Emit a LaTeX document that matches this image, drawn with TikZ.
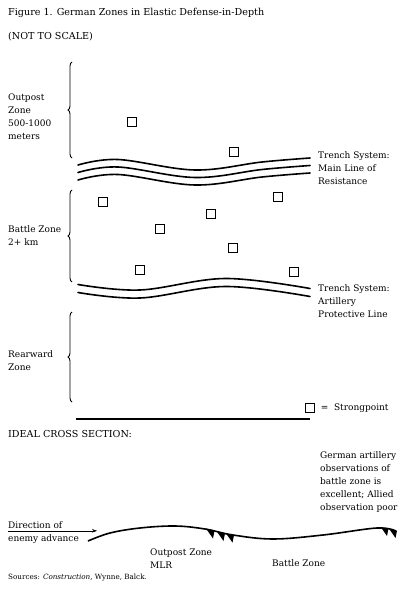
\documentclass[tikz,border=0pt]{standalone}
\usepackage{fontspec}
\setmainfont{DejaVu Serif}
\usetikzlibrary{arrows.meta,decorations.pathreplacing,positioning}

\begin{document}
\begin{tikzpicture}[x=1pt, y=-1pt,
    txt/.style={font=\fontsize{9}{13}\selectfont, align=left, anchor=north west, inner sep=0pt},
    basetxt/.style={font=\fontsize{9}{13}\selectfont, anchor=base west, inner sep=0pt},
    head/.style={txt, font=\fontsize{9.6}{12}\selectfont},
    sp/.style={draw, line width=0.7pt, minimum size=8.5pt, inner sep=0pt},
    trench/.style={line width=1.6pt, line cap=round},
    zone/.style={line width=0.9pt, decorate, decoration={brace, amplitude=4pt, mirror}},
    ground/.style={line width=1.6pt},
    hatch/.style={fill=black}
]
    \useasboundingbox (0,0) rectangle (406,591);
    \node[head] (title) at (8,8.5) {Figure 1. German Zones in Elastic Defense-in-Depth};
    \node[head] (notscale) at (8,32) {(NOT TO SCALE)};

    \node[txt] (outpost) at (8,94) {Outpost\\Zone\\500-1000\\meters};
    \draw[zone] (72,62) -- (72,158);
    \node[txt] (battle) at (8,225) {Battle Zone\\2+ km};
    \draw[zone] (72,190) -- (72,282);
    \node[txt] (rearward) at (8,350) {Rearward\\Zone};
    \draw[zone] (72,312) -- (72,402);

    \foreach \dy in {0,7.5,15}
        \draw[trench, yshift=-\dy] plot[smooth, tension=0.6] coordinates
            {(78,165) (118,159.5) (195,170) (262,162) (310,158)};
    \node[txt] (mlr) at (318,151) {Trench System:\\Main Line of\\Resistance};

    \foreach \dy in {0,8}
        \draw[trench, yshift=-\dy] plot[smooth, tension=0.6] coordinates
            {(78,284.5) (140,290) (225,278.5) (310,288.5)};
    \node[txt] (apl) at (318,284) {Trench System:\\Artillery\\Protective Line};

    \foreach \x/\y [count=\i] in {132/122, 234/152, 103/202, 211/214, 278/197, 160/229, 233/248, 140/270, 294/272}
        \node[sp] (sp\i) at (\x,\y) {};

    \node[sp] (key) at (310,408) {};
    \node[basetxt, right=6pt of key.east, anchor=west] (keytxt) {=\ \ Strongpoint};
    \draw[line width=1.4pt] (76,419) -- (310,419);

    \node[head] (ideal) at (8,430) {IDEAL CROSS SECTION:};
    \node[txt] (observ) at (320,451) {German artillery\\observations of\\battle zone is\\excellent; Allied\\observation poor};

    \node[basetxt, inner ysep=2.5pt, anchor=base west] (dir) at (8,528) {Direction of};
    \node[basetxt] (enemy) at (8,541) {enemy advance};
    \coordinate (advtip) at (97,531);
    \draw[line width=0.6pt, -{Stealth[length=5pt, width=3.5pt]}] (dir.south west) -- (dir.south west -| advtip);

    \draw[ground] plot[smooth, tension=0.6] coordinates
        {(88,541) (110,533) (140,528) (175,526) (205,529) (233,535) (273,539) (323,535) (377,528) (396,531)};
    \fill[hatch] (206,528.5) -- (214.5,530.5) -- (213,538.5) -- cycle;
    \fill[hatch] (216.5,531) -- (225,533.2) -- (223.5,541) -- cycle;
    \fill[hatch] (226,533.4) -- (234,535.2) -- (232.5,542.5) -- cycle;
    \fill[hatch] (381,527.4) -- (388.5,528.4) -- (387,536) -- cycle;
    \fill[hatch] (389,528.6) -- (397,530.8) -- (395.5,538) -- cycle;

    \node[txt] (opzone) at (150,549) {Outpost Zone\\MLR};
    \node[txt] (bzone) at (272,559) {Battle Zone};
    \node[txt, font=\fontsize{7.2}{9}\selectfont] (sources) at (8,574) {Sources: \textit{Construction}, Wynne, Balck.};
\end{tikzpicture}
\end{document}
